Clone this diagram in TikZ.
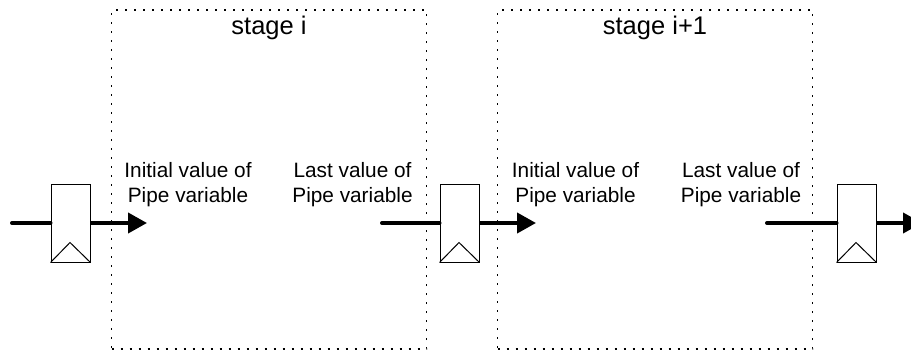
\documentclass[tikz,border=0pt]{standalone}
\usepackage{fontspec}
\setmainfont{Liberation Sans}
\usetikzlibrary{arrows.meta}
\begin{document}
\begin{tikzpicture}[x=1pt,y=-1pt,
  stagebox/.style={draw, line width=1.6pt, dash pattern=on 2pt off 7pt, minimum width=315pt, minimum height=339pt, inner sep=0pt},
  regbox/.style={draw, line width=1pt, fill=white, minimum width=39pt, minimum height=78pt, inner sep=0pt},
  stagetitle/.style={font=\fontsize{25.5}{30}\selectfont, anchor=base, inner sep=0pt},
  varlabel/.style={font=\fontsize{20.8}{25}\selectfont, align=center, inner sep=0pt},
  wire/.style={line width=4pt, line cap=round},
  wirearrow/.style={line width=4pt, -{Triangle[length=19pt,width=20pt]}}]
\useasboundingbox (0,0) rectangle (911,351);
% stage boxes
\node[stagebox] (st1) at (269,179.5) {};
\node[stagebox] (st2) at (655,179.5) {};
\node[stagetitle] (t1) at (269,34) {stage i};
\node[stagetitle] (t2) at (655,34) {stage i+1};
% labels
\node[varlabel] (init1) at (188,184.5) {Initial value of\\Pipe variable};
\node[varlabel] (last1) at (352.5,184.5) {Last value of\\Pipe variable};
\node[varlabel] (init2) at (575.5,184.5) {Initial value of\\Pipe variable};
\node[varlabel] (last2) at (741,184.5) {Last value of\\Pipe variable};
% registers
\node[regbox] (r1) at (70.5,223) {};
\node[regbox] (r2) at (459.5,223) {};
\node[regbox] (r3) at (856.5,223) {};
\foreach \r in {r1,r2,r3}{
  \draw[line width=1pt, line join=miter] (\r.south west) -- ++(19.5,-20) -- (\r.south east);
}
% connector ends
\coordinate (s1) at (12,223);
\coordinate (e1) at (147,223);
\coordinate (s2) at (382,223);
\coordinate (e2) at (536,223);
\coordinate (s3) at (767,223);
\coordinate (e3) at (922,223);
\draw[wire] (s1) -- (r1.west);
\draw[wirearrow] (r1.east) -- (e1);
\draw[wire] (s2) -- (r2.west);
\draw[wirearrow] (r2.east) -- (e2);
\draw[wire] (s3) -- (r3.west);
\draw[wirearrow] (r3.east) -- (e3);
\end{tikzpicture}
\end{document}
